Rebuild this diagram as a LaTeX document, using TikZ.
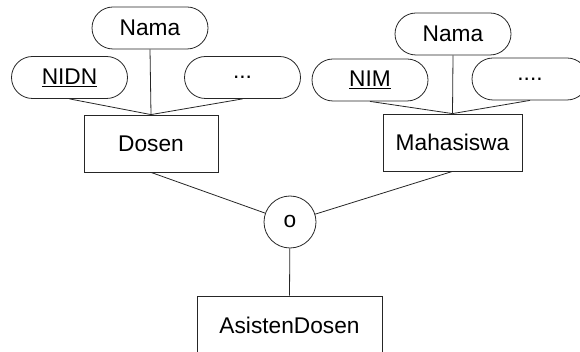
\documentclass[tikz,border=0pt]{standalone}
\usepackage{fontspec}
\setmainfont{Liberation Sans}
\usetikzlibrary{shapes.misc}

\begin{document}
\begin{tikzpicture}[x=1pt, y=-1pt,
        garis/.style={draw=black!85, line width=0.8pt},
        entitas/.style={garis, rectangle, inner sep=0pt, minimum height=57pt, font=\fontsize{22.7}{27}\selectfont},
        atribut/.style={garis, rounded rectangle, inner sep=0pt, minimum width=116pt, minimum height=42pt, font=\fontsize{22.7}{27}\selectfont},
        spesial/.style={garis, circle, inner sep=0pt, minimum size=52pt, font=\fontsize{22.7}{27}\selectfont}]
        \useasboundingbox (0,0) rectangle (580,352);
        \clip (0,0) rectangle (580,352);

        \node [entitas, minimum width=134pt] (dosen) at (151,143.5) {Dosen};
        \node [atribut] (namaD) at (150,28) {Nama};
        \node [atribut] (nidn) at (69.5,77.5) {\underline{NIDN}};
        \node [atribut] (lainD) at (242.5,77.5) {...};

        \node [entitas, minimum width=139pt] (mhs) at (452.5,142.5) {Mahasiswa};
        \node [atribut] (namaM) at (453,34) {Nama};
        \node [atribut] (nim) at (370,80) {\underline{NIM}};
        \node [atribut] (lainM) at (530,79) {....};

        \node [spesial] (isa) at (290,222) {o};
        \node [entitas, minimum width=185pt, minimum height=58pt] (asdos) at (289.5,325) {AsistenDosen};

        \draw [garis] (namaD.south) -- (dosen.north);
        \draw [garis] (nidn.south) -- (dosen.north);
        \draw [garis] (lainD.south) -- (dosen.north);

        \draw [garis] (namaM.south) -- (mhs.north);
        \draw [garis] (nim.south) -- (mhs.north);
        \draw [garis] (lainM.south) -- (mhs.north);

        \draw [garis] (dosen.south) -- (isa);
        \draw [garis] (mhs.south) -- (isa);
        \draw [garis] (isa) -- (asdos.north);
    \end{tikzpicture}
\end{document}
